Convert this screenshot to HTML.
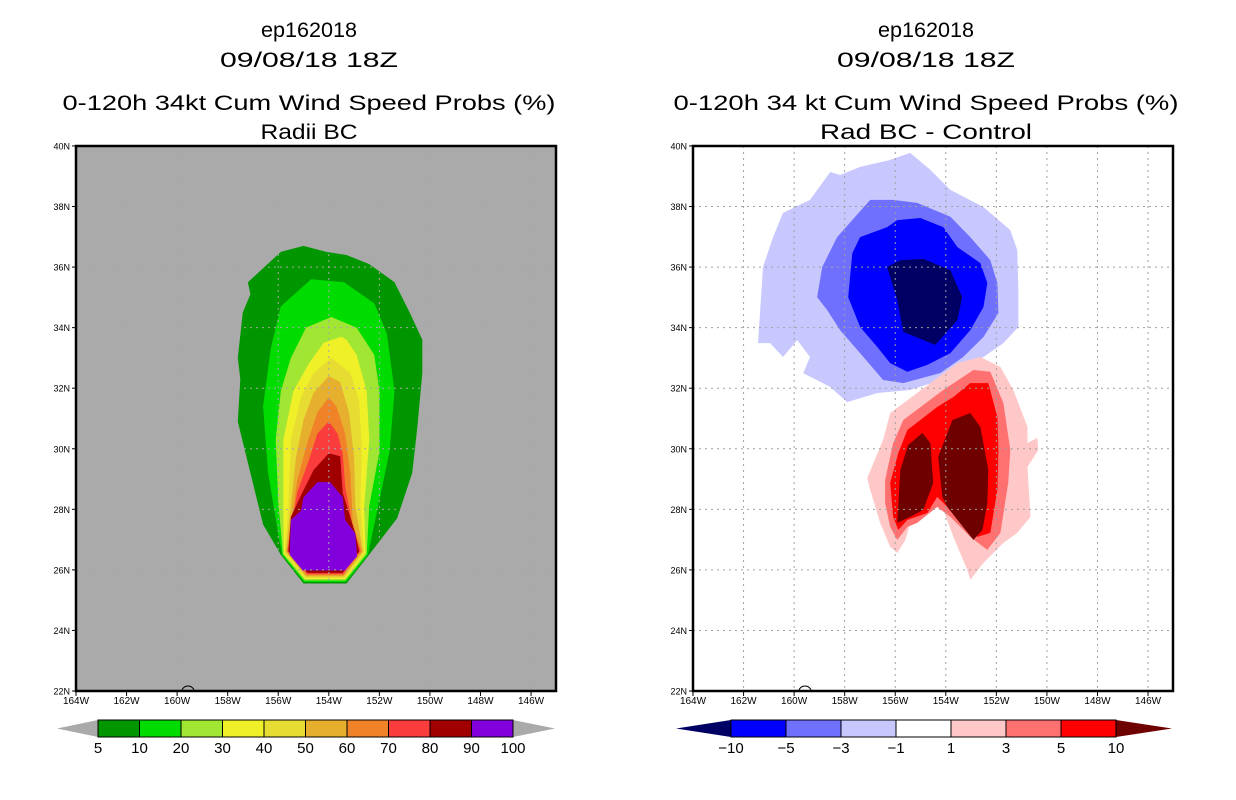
<!DOCTYPE html>
<html><head><meta charset="utf-8">
<style>
html,body{margin:0;padding:0;background:#fff;}
svg{display:block;font-family:"Liberation Sans",sans-serif;}
</style></head>
<body>
<svg id="fig" width="1236" height="800" viewBox="0 0 1236 800" xmlns="http://www.w3.org/2000/svg">
<g font-size="21" text-anchor="middle" fill="#000">
<text x="309" y="37" textLength="96" lengthAdjust="spacingAndGlyphs">ep162018</text>
<text x="309" y="67" textLength="178" lengthAdjust="spacingAndGlyphs">09/08/18 18Z</text>
<text x="309" y="110" textLength="493" lengthAdjust="spacingAndGlyphs">0-120h 34kt Cum Wind Speed Probs (%)</text>
<text x="309" y="139" textLength="97" lengthAdjust="spacingAndGlyphs">Radii BC</text>
</g>
<g font-size="21" text-anchor="middle" fill="#000">
<text x="926" y="37" textLength="96" lengthAdjust="spacingAndGlyphs">ep162018</text>
<text x="926" y="67" textLength="178" lengthAdjust="spacingAndGlyphs">09/08/18 18Z</text>
<text x="926" y="110" textLength="505" lengthAdjust="spacingAndGlyphs">0-120h 34 kt Cum Wind Speed Probs (%)</text>
<text x="926" y="139" textLength="212" lengthAdjust="spacingAndGlyphs">Rad BC - Control</text>
</g>
<g id="left-panel"></g>
<g id="right-panel"></g>
<g id="left-cbar"></g>
<g id="right-cbar"></g>
</svg>
<script>
// ---- data ----
const lonTicks = [164,162,160,158,156,154,152,150,148,146];
const latTicks = [22,24,26,28,30,32,34,36,38,40];
const probLevels = ["5","10","20","30","40","50","60","70","80","90","100"];
const probColors = ["#009600","#00dc00","#a0e632","#f0f028","#e6dc32","#e6af2d","#f08228","#fa3c3c","#a00000","#8200dc"];
const diffLevels = ["-10","-5","-3","-1","1","3","5","10"];
const diffColors = ["#000064","#0000ff","#7070ff","#c8c8ff","#ffffff","#ffc8c8","#ff7070","#ff0000","#6e0000"];
// contour polygons [lonW, latN]
const prob5 = [[157.2,35.5],[155.9,36.5],[155.0,36.7],[154.1,36.5],[153.3,36.4],[152.4,36.1],[151.4,35.5],[150.8,34.5],[150.3,33.6],[150.3,32.5],[150.5,30.7],[150.7,29.2],[151.3,27.7],[152.5,26.4],[153.3,25.55],[155.0,25.55],[155.9,26.5],[156.6,27.5],[157.1,29.2],[157.6,30.9],[157.5,32.3],[157.6,33.0],[157.4,34.5],[157.1,35.1]];
const prob10 = [[154.7,35.6],[155.9,34.7],[156.3,33.3],[156.6,31.4],[156.4,29.2],[156.0,27.2],[155.85,26.5],[154.98,25.6],[153.32,25.6],[152.45,26.5],[152.1,27.9],[151.6,29.9],[151.4,31.9],[151.7,33.8],[152.2,34.8],[153.4,35.5]];
const prob20 = [[153.9,34.35],[154.9,34.0],[155.5,33.0],[155.9,31.9],[156.1,30.3],[156.0,28.3],[155.82,26.52],[154.96,25.65],[153.34,25.65],[152.5,26.52],[152.4,28.1],[152.0,29.9],[152.0,31.9],[152.2,33.1],[152.9,34.0]];
const prob30 = [[153.5,33.7],[154.2,33.5],[154.8,32.8],[155.4,31.9],[155.8,30.3],[155.8,28.1],[155.78,26.55],[154.94,25.7],[153.36,25.7],[152.55,26.55],[152.6,28.1],[152.4,30.3],[152.5,31.9],[152.9,33.1],[153.3,33.6]];
const prob40 = [[153.9,33.0],[154.6,32.5],[155.1,31.7],[155.5,30.3],[155.6,28.1],[155.74,26.57],[154.92,25.74],[153.38,25.74],[152.6,26.57],[152.75,28.1],[152.7,30.05],[152.8,31.6],[153.15,32.5]];
const prob50 = [[154.0,32.4],[154.6,31.85],[155.0,30.95],[155.3,29.7],[155.5,28.1],[155.7,26.6],[154.9,25.78],[153.4,25.78],[152.65,26.6],[152.95,28.1],[153.0,29.7],[153.2,31.2],[153.55,32.2]];
const prob60 = [[154.0,31.7],[154.45,31.2],[154.85,30.2],[155.25,28.95],[155.45,27.75],[155.66,26.62],[154.88,25.82],[153.42,25.82],[152.7,26.62],[153.05,27.55],[153.15,29.2],[153.35,30.5],[153.7,31.4]];
const prob70 = [[154.0,30.9],[154.45,30.5],[154.8,29.6],[155.25,28.55],[155.45,27.55],[155.63,26.64],[154.86,25.86],[153.44,25.86],[152.75,26.64],[153.05,27.4],[153.35,28.75],[153.45,29.85],[153.65,30.5]];
const prob80 = [[154.0,29.85],[154.6,29.3],[155.05,28.55],[155.5,27.75],[155.6,26.6],[154.84,25.9],[153.46,25.9],[152.8,26.6],[152.95,27.2],[153.45,28.55],[153.55,29.75]];
const prob90 = [[154.45,28.9],[155.0,28.4],[155.1,27.95],[155.5,27.65],[155.55,26.5],[155.03,25.98],[153.37,25.98],[152.88,26.45],[152.95,27.2],[153.35,27.65],[153.45,28.4],[153.95,28.9]];
const diffM1 = [[161.43,33.49],[161.23,36.0],[160.83,36.99],[160.44,37.79],[159.37,38.22],[158.57,39.14],[158.18,39.04],[157.39,39.31],[156.2,39.54],[155.41,39.77],[154.61,39.21],[153.82,38.55],[152.51,37.98],[151.45,37.22],[151.17,36.56],[151.13,35.24],[151.13,34.02],[151.72,33.49],[152.51,33.03],[153.82,32.37],[155.41,31.94],[156.71,31.84],[157.9,31.54],[158.57,32.04],[159.64,32.5],[159.37,33.03],[159.88,33.59],[160.44,33.03],[160.95,33.49]];
const diffM3 = [[159.09,35.01],[158.89,36.0],[158.3,36.99],[156.99,38.22],[156.08,38.22],[155.13,38.12],[153.82,37.66],[153.03,36.99],[152.24,36.23],[151.96,35.47],[151.92,34.48],[152.51,33.69],[153.31,33.03],[154.22,32.5],[155.68,32.17],[156.48,32.27],[157.39,33.16],[158.18,33.92],[158.69,34.58]];
const diffM5 = [[157.86,35.01],[157.7,36.46],[157.39,36.99],[156.32,37.32],[155.92,37.55],[155.01,37.62],[154.1,37.32],[153.54,36.66],[152.63,36.13],[152.36,35.47],[152.51,34.68],[153.03,33.92],[153.82,33.16],[154.73,32.77],[155.52,32.54],[156.2,32.83],[156.71,33.36],[157.39,34.02]];
const diffM10 = [[156.32,36.0],[155.8,36.23],[154.89,36.27],[153.82,35.9],[153.35,35.01],[153.54,34.25],[154.42,33.43],[155.68,33.86],[155.92,34.91]];
const diffP1 = [[157.11,29.03],[156.48,30.29],[156.2,31.18],[154.61,32.17],[153.54,32.83],[152.63,33.03],[151.84,32.7],[151.33,31.94],[150.77,30.72],[150.77,30.19],[150.38,30.36],[150.34,29.96],[150.77,29.4],[150.65,27.75],[151.17,27.22],[151.72,26.89],[152.51,26.23],[153.03,25.67],[153.15,26.0],[153.7,27.09],[154.1,27.98],[154.61,28.21],[155.41,27.55],[155.6,26.99],[155.92,26.56],[156.2,26.76],[156.6,27.55],[156.99,28.64]];
const diffP3 = [[156.4,28.97],[156.08,30.19],[155.68,30.95],[154.1,31.94],[152.91,32.6],[152.24,32.54],[151.72,31.51],[151.45,29.96],[151.53,28.87],[151.84,27.22],[152.36,26.66],[153.03,27.09],[153.82,27.75],[154.34,28.08],[155.13,27.55],[155.52,27.42],[155.92,26.99],[156.2,27.42],[156.4,28.21]];
const diffP5 = [[156.2,28.87],[155.88,29.86],[155.52,30.62],[154.34,31.38],[153.7,31.71],[153.03,32.17],[152.32,32.17],[151.96,31.05],[151.92,29.96],[151.96,28.64],[152.24,27.22],[152.75,27.09],[153.31,27.55],[153.94,28.08],[154.34,28.41],[154.73,27.88],[155.52,27.65],[155.88,27.32],[156.08,27.75]];
const diffP10a = [[155.92,27.55],[155.8,29.3],[155.49,30.12],[154.93,30.52],[154.61,30.19],[154.5,28.87],[154.89,27.98],[155.41,27.75]];
const diffP10b = [[154.14,28.41],[154.3,29.73],[153.74,30.95],[153.03,31.18],[152.63,30.72],[152.32,29.3],[152.36,28.21],[152.55,27.32],[152.91,26.99],[153.54,27.65],[153.94,28.08]];

// ---- layout ----
const NS = "http://www.w3.org/2000/svg";
function mk(tag, attrs, parent){const e=document.createElementNS(NS,tag);for(const k in attrs)e.setAttribute(k,attrs[k]);parent.appendChild(e);return e;}
function makePanel(x0){
  return {x0:x0, x1:x0+480, y0:146, y1:691,
    X:function(lon){return x0 + (164-lon)*25.28;},
    Y:function(lat){return 691 - (lat-22)*30.28;}};
}
const L = makePanel(76), R = makePanel(693);

function poly(panel, pts, color, g, name){
  const d = pts.map(p=>panel.X(p[0]).toFixed(1)+","+panel.Y(p[1]).toFixed(1)).join(" ");
  const el = mk("polygon",{points:d, fill:color}, g);
  
  
}
function axes(panel, g, bg, gridColor){
  const r = mk("rect",{x:panel.x0,y:panel.y0,width:panel.x1-panel.x0,height:panel.y1-panel.y0,fill:bg},g);
  
  
}
function gridAndFrame(panel, g, gridColor){
  lonTicks.forEach(lon=>{
    const x = panel.X(lon);
    if(lon<164){ const l=mk("line",{x1:x,y1:panel.y0,x2:x,y2:panel.y1,stroke:gridColor,"stroke-width":1,"stroke-dasharray":"2,4"},g);
        }
    const t=mk("line",{x1:x,y1:panel.y1,x2:x,y2:panel.y1+5,stroke:"#000","stroke-width":1},g);
     
    const tx=mk("text",{x:x,y:panel.y1+13,"font-size":10,"text-anchor":"middle"},g);
    tx.textContent = lon+"W";
     
  });
  latTicks.forEach(lat=>{
    const y = panel.Y(lat);
    if(lat>22 && lat<40){ const l=mk("line",{x1:panel.x0,y1:y,x2:panel.x1,y2:y,stroke:gridColor,"stroke-width":1,"stroke-dasharray":"2,4"},g);
        }
    const t=mk("line",{x1:panel.x0-4,y1:y,x2:panel.x0,y2:y,stroke:"#000","stroke-width":1},g);
     
    const tx=mk("text",{x:panel.x0-6,y:y+3.5,"font-size":9,"text-anchor":"end"},g);
    tx.textContent = lat+"N";
     
  });
  // small island coastline
  const c = mk("path",{d:"M"+(panel.x0+106)+","+(panel.y1)+" a6,5 0 0 1 12,0",fill:"none",stroke:"#000","stroke-width":1},g);
   
  const f=mk("rect",{x:panel.x0,y:panel.y0,width:panel.x1-panel.x0,height:panel.y1-panel.y0,fill:"none",stroke:"#000","stroke-width":2.5},g);
   
}

// left panel
const gl = document.getElementById("left-panel");
axes(L, gl, "#aaaaaa");
const probPolys = [prob5,prob10,prob20,prob30,prob40,prob50,prob60,prob70,prob80,prob90];
probPolys.forEach((p,i)=>poly(L,p,probColors[i],gl,"prob-contour-"+probLevels[i]));
gridAndFrame(L, gl, "#a8a8a8");

// right panel
const gr = document.getElementById("right-panel");
axes(R, gr, "#ffffff");
poly(R,diffM1,diffColors[3],gr,"diff-contour-minus1");
poly(R,diffM3,diffColors[2],gr,"diff-contour-minus3");
poly(R,diffM5,diffColors[1],gr,"diff-contour-minus5");
poly(R,diffM10,diffColors[0],gr,"diff-contour-minus10");
poly(R,diffP1,diffColors[5],gr,"diff-contour-plus1");
poly(R,diffP3,diffColors[6],gr,"diff-contour-plus3");
poly(R,diffP5,diffColors[7],gr,"diff-contour-plus5");
poly(R,diffP10a,diffColors[8],gr,"diff-contour-plus10-west");
poly(R,diffP10b,diffColors[8],gr,"diff-contour-plus10-east");
gridAndFrame(R, gr, "#a0a0a0");

// colorbars
function colorbar(g, tipL, x0, x1, tipR, colors, leftTip, rightTip, labels){
  const y0=720, y1=737, ym=(y0+y1)/2;
  const n = colors.length, w=(x1-x0)/n;
  const lt = mk("polygon",{points:tipL+","+ym+" "+x0+","+y0+" "+x0+","+y1,fill:leftTip},g);
   
  const rt = mk("polygon",{points:tipR+","+ym+" "+x1+","+y0+" "+x1+","+y1,fill:rightTip},g);
   
  colors.forEach((c,i)=>{
    const r=mk("rect",{x:x0+i*w,y:y0,width:w,height:y1-y0,fill:c,stroke:"#000","stroke-width":1},g);
     
  });
  labels.forEach((s,i)=>{
    const t=mk("text",{x:x0+i*w,y:753,"font-size":15,"text-anchor":"middle"},g);
    t.textContent = s.replace("-","\u2212");
     
  });
}
colorbar(document.getElementById("left-cbar"),57,98,513,555,probColors,"#aaaaaa","#aaaaaa",probLevels);
colorbar(document.getElementById("right-cbar"),676,731,1116,1172,diffColors.slice(1,8),diffColors[0],diffColors[8],diffLevels);
</script>
</body></html>
